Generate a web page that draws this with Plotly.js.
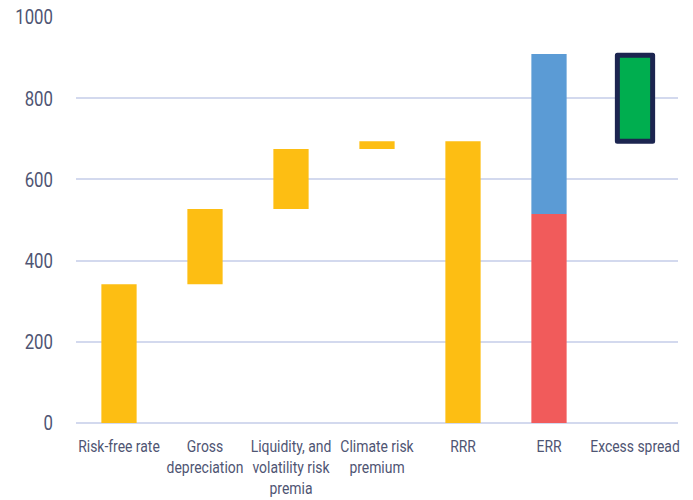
<!DOCTYPE html>
<html><head><meta charset="utf-8">
<script src="https://cdn.plot.ly/plotly-3.0.1.min.js"></script>
<style>html,body{margin:0;padding:0;background:#fff}#chart{width:693px;height:500px}</style>
</head><body><div id="chart"></div>
<script>
// Data
const categories = ["Risk-free rate", "Gross depreciation", "Liquidity, and volatility risk premia", "Climate risk premium", "RRR", "ERR", "Excess spread"];
const tickLabels = ["Risk-free rate", "Gross<br>depreciation", "Liquidity, and<br>volatility risk<br>premia", "Climate risk<br>premium", "RRR", "ERR", "Excess spread"];
const yTickVals = [0, 200, 400, 600, 800, 1000];
// yellow build-up bars (floating)
const buildCats = ["Risk-free rate", "Gross depreciation", "Liquidity, and volatility risk premia", "Climate risk premium", "RRR"];
const buildBase = [0, 342, 527, 675, 0];
const buildTop = [342, 527, 675, 694, 694];
// ERR stacked components
const errRedTop = 515;
const errBlueTop = 909;
// Excess spread floating bar
const excessBase = 694;
const excessTop = 906;

const font = "Roboto, 'Noto Sans', sans-serif";
const textColor = "#4f5573";

const traces = [
  {type: "bar", x: buildCats, base: buildBase, y: buildTop.map((t, i) => t - buildBase[i]),
   marker: {color: "#FDBE13"}},
  {type: "bar", x: ["ERR"], base: [0], y: [errRedTop], marker: {color: "#F15B5B"}},
  {type: "bar", x: ["ERR"], base: [errRedTop], y: [errBlueTop - errRedTop], marker: {color: "#5B9BD5"}},
  {type: "bar", x: ["Excess spread"], base: [excessBase], y: [excessTop - excessBase],
   marker: {color: "#00AE4F", line: {color: "#1C2550", width: 5}}}
];

const layout = {
  width: 693, height: 500,
  margin: {l: 76, r: 15, t: 17, b: 77},
  showlegend: false,
  barmode: "overlay",
  bargap: 0.59,
  paper_bgcolor: "#fff", plot_bgcolor: "#fff",
  font: {family: font, color: textColor, size: 16},
  xaxis: {type: "category", categoryorder: "array", categoryarray: categories,
          tickvals: categories, ticktext: tickLabels, tickangle: 0,
          showgrid: false, zeroline: false, showline: false, ticks: "",
          ticklabelstandoff: 12,
          tickfont: {size: 16, color: textColor, family: font}},
  yaxis: {range: [0, 1000], tickvals: yTickVals,
          showgrid: true, gridcolor: "#D3D9EE", gridwidth: 2,
          zeroline: true, zerolinecolor: "#D3D9EE", zerolinewidth: 2,
          showline: false, ticks: "", ticklabelstandoff: 22,
          tickfont: {size: 21, color: textColor, family: font}}
};

function condense(selector, s) {
  document.querySelectorAll(selector).forEach(t => {
    const x = parseFloat(t.getAttribute("x")) || 0;
    const tr = t.getAttribute("transform") || "";
    t.setAttribute("transform", tr + " translate(" + x + ",0) scale(" + s + ",1) translate(" + (-x) + ",0)");
  });
}

Plotly.newPlot("chart", traces, layout, {displayModeBar: false, staticPlot: true}).then(() => {
  condense(".xtick text", 0.87);
  condense(".ytick text", 0.8);
  document.querySelectorAll(".bars path").forEach(p => p.style.strokeLinejoin = "round");
});
</script>
</body></html>
